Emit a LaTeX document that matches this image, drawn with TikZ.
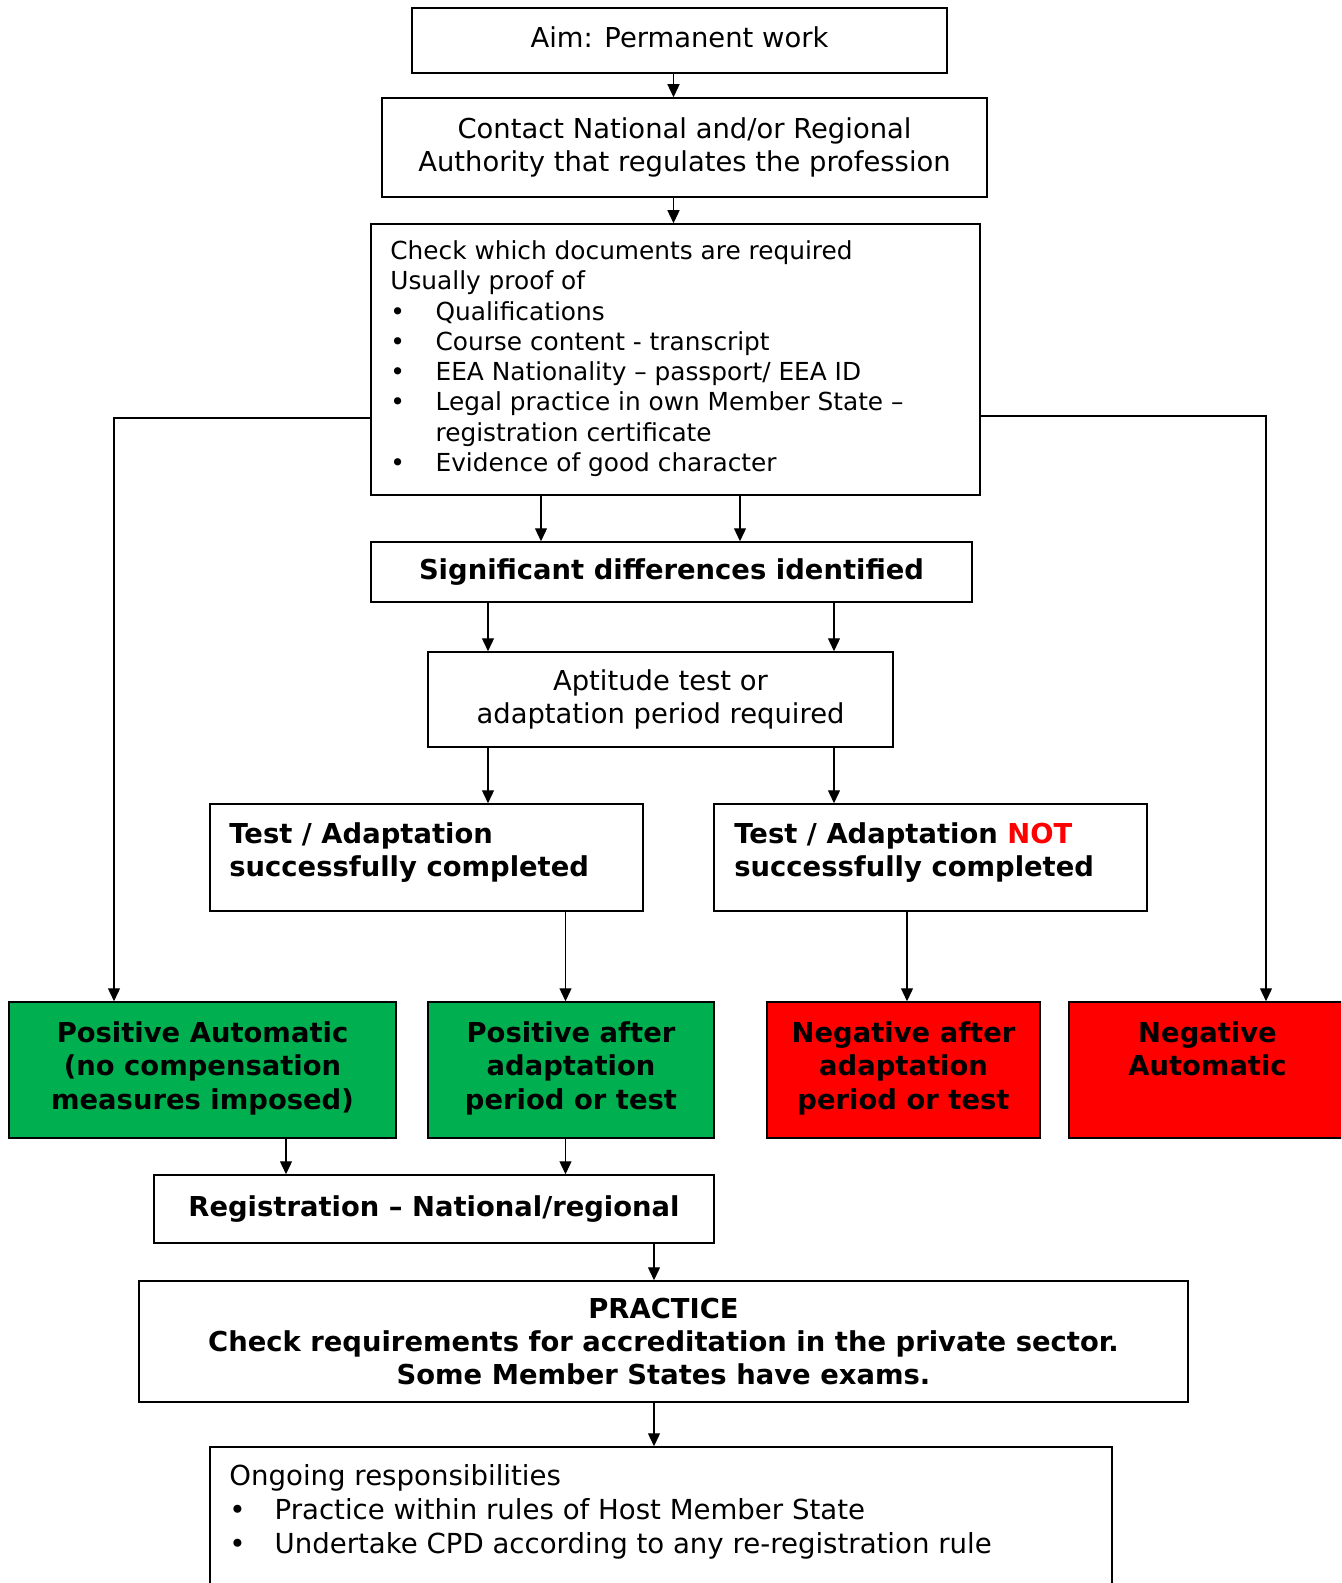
\documentclass[tikz,border=0pt]{standalone}
\usepackage{fontspec}
\setmainfont{DejaVu Sans}
\usetikzlibrary{arrows.meta}
\definecolor{boxgreen}{HTML}{00B050}
\definecolor{boxred}{HTML}{FF0000}
\newcommand\bulitem{\makebox[22.6pt][l]{\textbullet}}
\begin{document}
\begin{tikzpicture}[x=0.5pt,y=-0.5pt,
  box/.style={draw=black, line width=0.75pt, inner sep=0pt, align=center},
  sz/.style 2 args={minimum width=#1, minimum height=#2},
  big/.style={font=\fontsize{13.7pt}{16.65pt}\selectfont},
  bigb/.style={font=\fontsize{13.7pt}{16.65pt}\selectfont\bfseries},
  result/.style={box, bigb, text depth=0.45em, sz={#1}{68pt}},
  arr/.style={-{Triangle[length=6.5pt,width=6pt]}, line width=0.65pt},
  txt/.style={inner sep=0pt, anchor=base west}]
\useasboundingbox (0,0) rectangle (1341,1583);
\clip (0,0) rectangle (1341,1583);

% x / y reference coordinates for connectors
\coordinate (xa) at (673.5,0);
\coordinate (xb) at (541,0);
\coordinate (xc) at (740,0);
\coordinate (xd) at (488,0);
\coordinate (xe) at (834,0);
\coordinate (xf) at (565.5,0);
\coordinate (xg) at (907,0);
\coordinate (xl) at (114,0);
\coordinate (xr) at (1266,0);
\coordinate (xh) at (286,0);
\coordinate (xi) at (654,0);
\coordinate (yl) at (0,418);
\coordinate (yr) at (0,416);

% boxes
\node[box, big, text depth=0.3em, sz={267.5pt}{32.5pt}] (aim) at (679.5,40.5) {Aim: Permanent work};
\node[box, big, sz={302.5pt}{49.5pt}] (contact) at (684.5,147.5) {Contact National and/or Regional\\Authority that regulates the profession};
\node[box, sz={304.5pt}{135.5pt}] (check) at (675.5,359.5) {};
\node[txt] (checktext) at (390,259.5) {\parbox[t]{560pt}{\raggedright\fontsize{12.4pt}{15.15pt}\selectfont
Check which documents are required\\
Usually proof of\\
\bulitem Qualifications\\
\bulitem Course content - transcript\\
\bulitem EEA Nationality – passport/ EEA ID\\
\bulitem Legal practice in own Member State –\\
\hspace*{22.6pt}registration certificate\\
\bulitem Evidence of good character}};
\node[box, bigb, sz={300.5pt}{30pt}] (sig) at (671.5,572) {Significant differences identified};
\node[box, big, sz={232.5pt}{47.5pt}] (apt) at (660.5,699.5) {Aptitude test or\\adaptation period required};
\node[box, sz={216.5pt}{53.5pt}] (testok) at (426.5,857.5) {};
\node[txt] (testoktext) at (229,843) {\parbox[t]{200pt}{\raggedright\fontsize{13.7pt}{16.65pt}\selectfont\bfseries
Test / Adaptation\\successfully completed}};
\node[box, sz={216.5pt}{53.5pt}] (testno) at (930.5,857.5) {};
\node[txt] (testnotext) at (734,843) {\parbox[t]{200pt}{\raggedright\fontsize{13.7pt}{16.65pt}\selectfont\bfseries
Test / Adaptation \textcolor{boxred}{NOT}\\successfully completed}};
\node[result=193.5pt, fill=boxgreen] (posauto) at (202.5,1070) {Positive Automatic\\(no compensation\\measures imposed)};
\node[result=143pt, fill=boxgreen] (posafter) at (571,1070) {Positive after\\adaptation\\period or test};
\node[result=136.5pt, fill=boxred] (negafter) at (903.5,1070) {Negative after\\adaptation\\period or test};
\node[result=138.5pt, fill=boxred] (negauto) at (1207.5,1070) {Negative\\Automatic\\\vphantom{p}};
\node[box, bigb, sz={280pt}{34pt}] (reg) at (434,1209) {Registration – National/regional};
\node[box, bigb, sz={524.5pt}{60.5pt}] (practice) at (663.5,1341.5) {PRACTICE\\Check requirements for accreditation in the private sector.\\Some Member States have exams.};
\node[box, sz={451pt}{96.5pt}] (ongoing) at (661,1543.5) {};
\node[txt] (ongoingtext) at (229,1485.5) {\parbox[t]{600pt}{\raggedright\fontsize{13.8pt}{17.1pt}\selectfont
Ongoing responsibilities\\
\bulitem Practice within rules of Host Member State\\
\bulitem Undertake CPD according to any re-registration rule}};

% connectors
\draw[arr] (aim.south -| xa) -- (contact.north -| xa);
\draw[arr] (contact.south -| xa) -- (check.north -| xa);
\draw[arr] (check.south -| xb) -- (sig.north -| xb);
\draw[arr] (check.south -| xc) -- (sig.north -| xc);
\draw[arr] (sig.south -| xd) -- (apt.north -| xd);
\draw[arr] (sig.south -| xe) -- (apt.north -| xe);
\draw[arr] (apt.south -| xd) -- (testok.north -| xd);
\draw[arr] (apt.south -| xe) -- (testno.north -| xe);
\draw[arr] (testok.south -| xf) -- (posafter.north -| xf);
\draw[arr] (testno.south -| xg) -- (negafter.north -| xg);
\draw[arr] (check.west |- yl) -| (posauto.north -| xl);
\draw[arr] (check.east |- yr) -| (negauto.north -| xr);
\draw[arr] (posauto.south -| xh) -- (reg.north -| xh);
\draw[arr] (posafter.south -| xf) -- (reg.north -| xf);
\draw[arr] (reg.south -| xi) -- (practice.north -| xi);
\draw[arr] (practice.south -| xi) -- (ongoing.north -| xi);
\end{tikzpicture}
\end{document}
